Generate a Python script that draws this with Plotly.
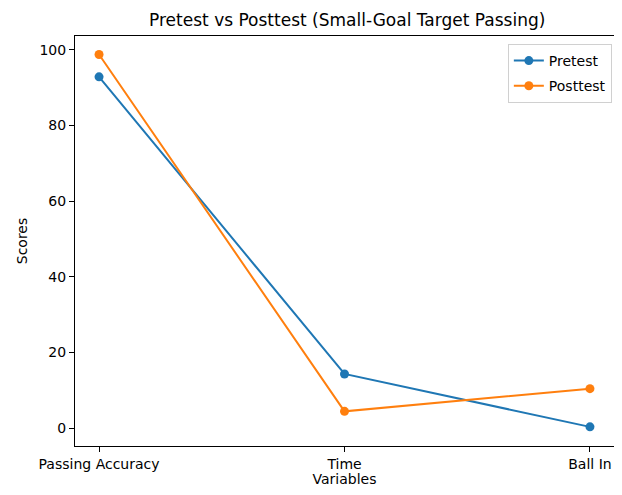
import plotly.graph_objects as go

categories = ["Passing Accuracy", "Time", "Ball In"]
pretest = [92.9, 14.3, 0.3]
posttest = [98.8, 4.4, 10.4]
y_ticks = [0, 20, 40, 60, 80, 100]

FONT = "DejaVu Sans"
W, H = 606, 479  # page body has an 8px margin; keep inside the viewport

fig = go.Figure()
fig.add_trace(go.Scatter(
    x=list(range(len(categories))), y=pretest, name="Pretest",
    mode="lines+markers", legendgroup="pre",
    line=dict(color="#1f77b4", width=2),
    marker=dict(color="#1f77b4", size=9),
))
fig.add_trace(go.Scatter(
    x=list(range(len(categories))), y=posttest, name="Posttest",
    mode="lines+markers", legendgroup="post",
    line=dict(color="#ff7f0e", width=2),
    marker=dict(color="#ff7f0e", size=9),
))

fig.update_layout(
    width=W, height=H,
    margin=dict(l=67, r=0, t=28, b=41, autoexpand=False),
    paper_bgcolor="white", plot_bgcolor="white",
    font=dict(family=FONT, size=14, color="black"),
    title=dict(text="Pretest vs Posttest (Small-Goal Target Passing)",
               x=0.505, xref="paper", xanchor="center",
               y=1 - 12 / H, yref="container", yanchor="middle",
               font=dict(family=FONT, size=17, color="black")),
    showlegend=True,
    legend=dict(x=0.996, xanchor="right", y=0.9805, yanchor="top",
                bgcolor="white", bordercolor="#d0d0d0", borderwidth=1,
                font=dict(family=FONT, size=14, color="black"),
                tracegroupgap=4),
)

fig.update_xaxes(
    range=[-0.098, 2.098], automargin=False,
    tickmode="array", tickvals=list(range(len(categories))), ticktext=categories,
    showgrid=False, zeroline=False,
    showline=True, linecolor="black", linewidth=1, mirror=True,
    ticks="outside", ticklen=5, tickcolor="black", tickwidth=1,
    title=dict(text="Variables", standoff=4, font=dict(family=FONT, size=14)),
)
fig.update_yaxes(
    range=[-4.76, 103.7], automargin=False,
    tickmode="array", tickvals=y_ticks,
    showgrid=False, zeroline=False,
    showline=True, linecolor="black", linewidth=1,
    ticks="outside", ticklen=5, tickcolor="black", tickwidth=1,
    title=dict(text="Scores", standoff=8, font=dict(family=FONT, size=14)),
)

fig.write_html("out.html")
